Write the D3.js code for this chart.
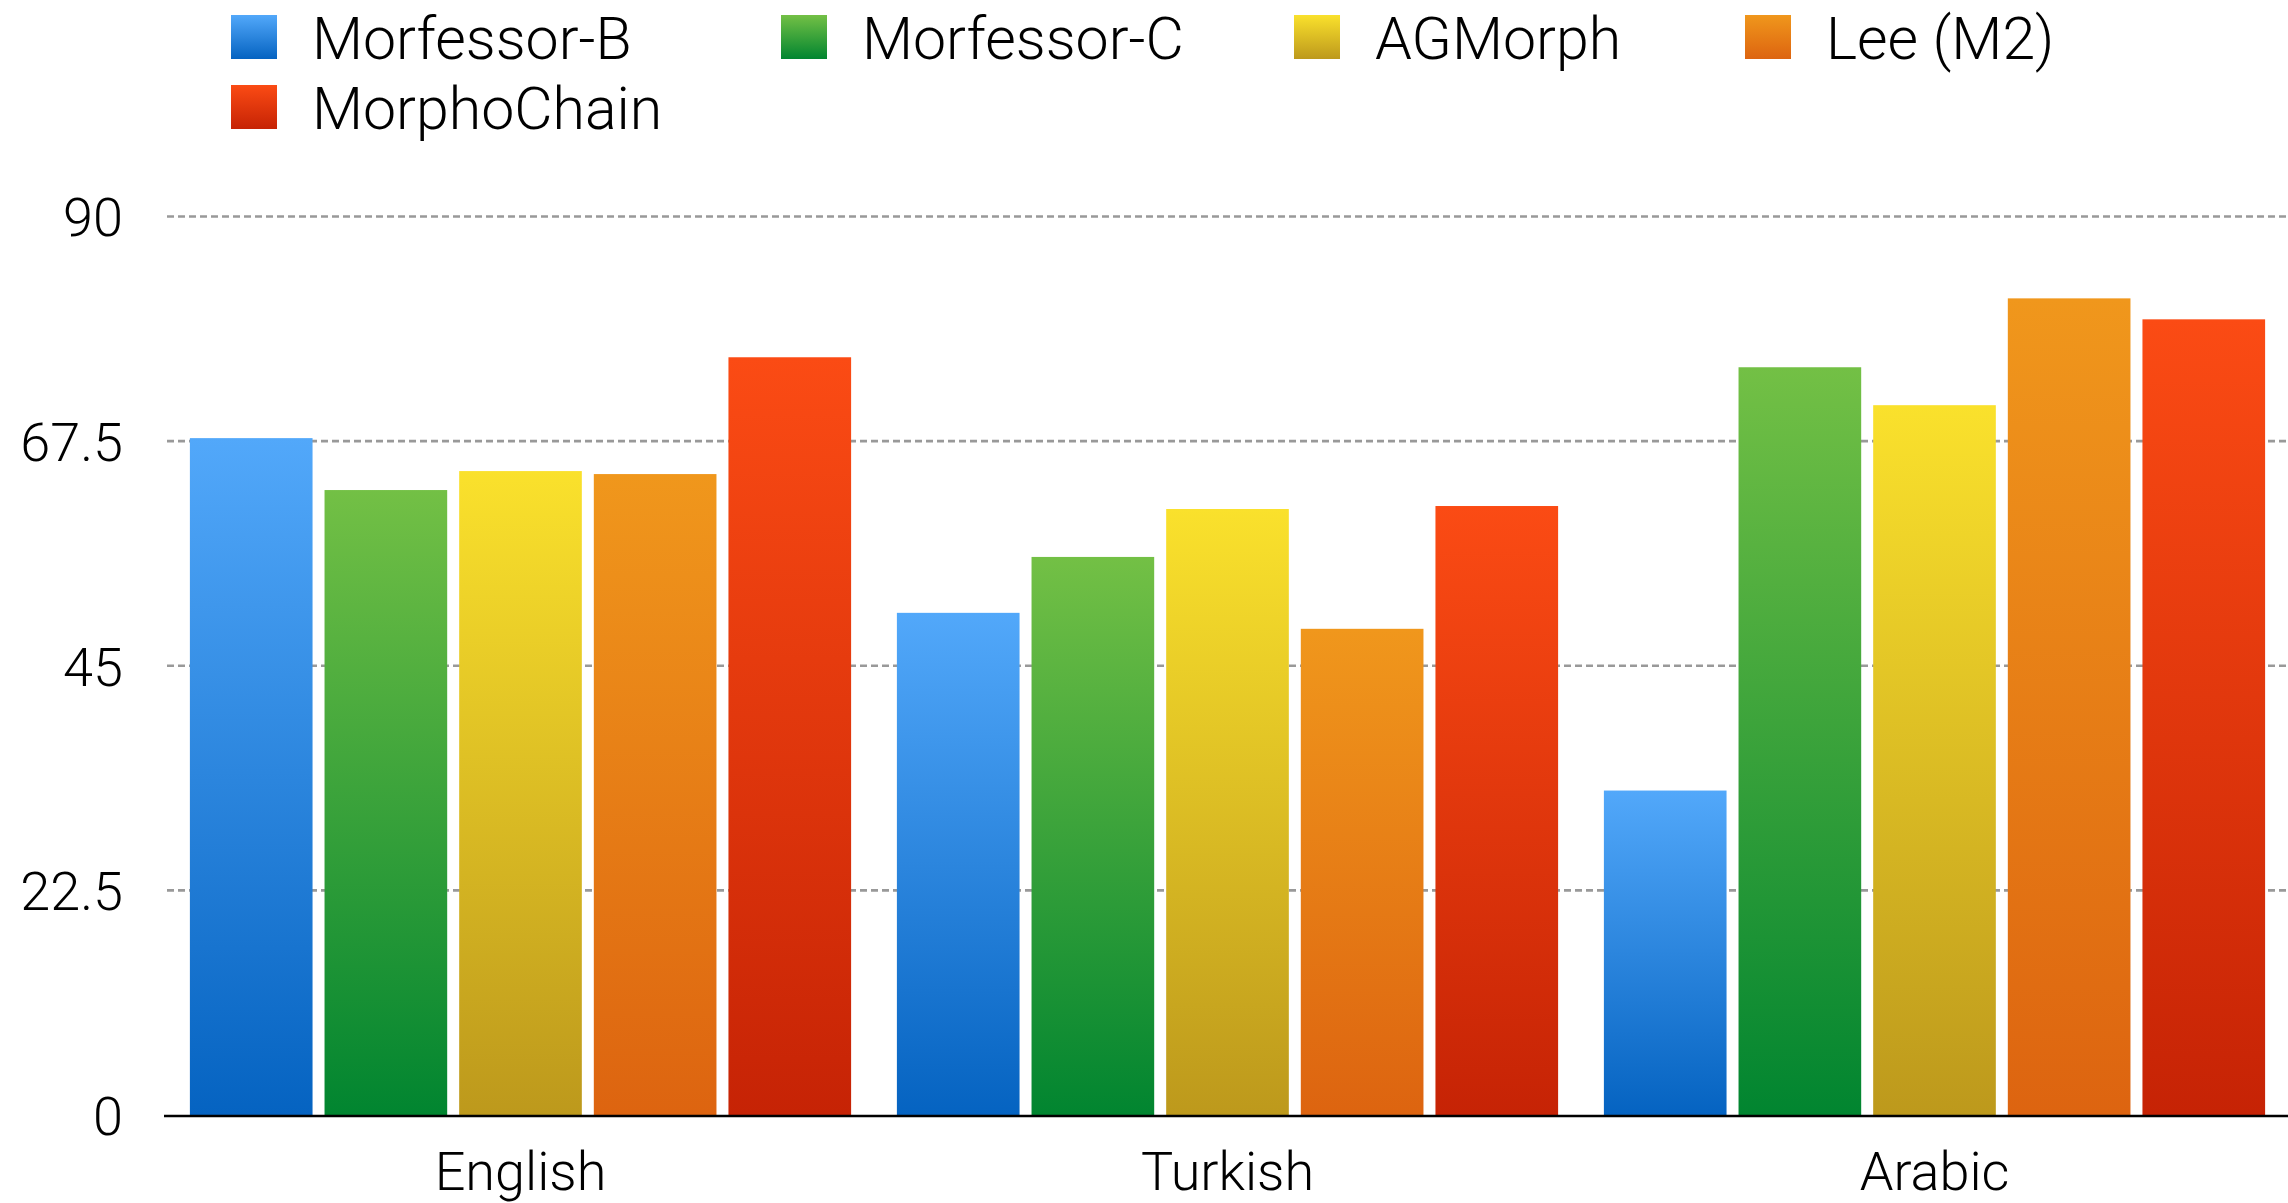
<!DOCTYPE html>
<html>
<head>
<meta charset="utf-8">
<script src="https://cdn.jsdelivr.net/npm/d3@7"></script>
<style>
  html, body { margin: 0; padding: 0; background: #ffffff; }
  svg { display: block; }
  text { font-family: "Roboto", "Liberation Sans", sans-serif; font-weight: 300; fill: #000; }
</style>
</head>
<body>
<svg id="chart" width="2288" height="1203"></svg>
<script>
// Languages on the x axis
const languages = ["English", "Turkish", "Arabic"];

// Systems compared, in legend / bar order
const systems = ["Morfessor-B", "Morfessor-C", "AGMorph", "Lee (M2)", "MorphoChain"];

// Scores per system, one value per language (English, Turkish, Arabic)
const morfessorB  = [67.8, 50.3, 32.5];
const morfessorC  = [62.6, 55.9, 74.9];
const agMorph     = [64.5, 60.7, 71.1];
const leeM2       = [64.2, 48.7, 81.8];
const morphoChain = [75.9, 61.0, 79.7];

// Y axis ticks and their labels
const yTicks = [0, 22.5, 45, 67.5, 90];
const yTickLabels = ["0", "22.5", "45", "67.5", "90"];

// Top and bottom colour of each system's gradient fill
const gradientTop    = ["#52a8fa", "#73c045", "#fae12c", "#f0971c", "#fb4b14"];
const gradientBottom = ["#0563c1", "#018530", "#bd991c", "#dd6410", "#c62305"];

const seriesValues = [morfessorB, morfessorC, agMorph, leeM2, morphoChain];

const svg = d3.select("#chart");
const plotLeft = 165, plotRight = 2288, plotTop = 216.5, plotBottom = 1115;

// Gradients
const defs = svg.append("defs");
systems.forEach((s, i) => {
  const g = defs.append("linearGradient")
    .attr("id", "grad" + i)
    .attr("x1", 0).attr("y1", 0).attr("x2", 0).attr("y2", 1);
  g.append("stop").attr("offset", "0%").attr("stop-color", gradientTop[i]);
  g.append("stop").attr("offset", "100%").attr("stop-color", gradientBottom[i]);
});

// Scales
const x0 = d3.scaleBand().domain(languages).range([plotLeft + 2, plotRight]).paddingInner(0).paddingOuter(0);
const x1 = d3.scaleBand().domain(systems).range([0, x0.bandwidth()]).paddingInner(0.089).paddingOuter(0.17);
const y = d3.scaleLinear().domain([0, 90]).range([plotBottom, plotTop]);

// Dashed gridlines (above zero)
svg.append("g")
  .selectAll("line")
  .data(yTicks.filter(v => v > 0))
  .join("line")
  .attr("x1", plotLeft + 2).attr("x2", plotRight)
  .attr("y1", d => y(d)).attr("y2", d => y(d))
  .attr("stroke", "#999999")
  .attr("stroke-width", 2.6)
  .attr("stroke-dasharray", "7,4");

// Y tick labels
const yAxis = d3.axisLeft(y)
  .tickValues(yTicks)
  .tickSize(0)
  .tickPadding(0)
  .tickFormat((d, i) => yTickLabels[i]);
const yg = svg.append("g").attr("transform", "translate(123,0)").call(yAxis);
yg.select(".domain").remove();
yg.selectAll("text")
  .attr("font-size", 54)
  .attr("font-family", null)
  .attr("dy", "0.36em")
  .attr("fill", "#000");

// Bars
const groups = svg.append("g")
  .selectAll("g")
  .data(languages)
  .join("g")
  .attr("transform", d => `translate(${x0(d)},0)`);

groups.selectAll("rect")
  .data((lang, li) => systems.map((s, si) => ({ s, si, v: seriesValues[si][li] })))
  .join("rect")
  .attr("x", d => x1(d.s))
  .attr("width", x1.bandwidth())
  .attr("y", d => y(d.v))
  .attr("height", d => y(0) - y(d.v))
  .attr("fill", d => `url(#grad${d.si})`);

// Baseline
svg.append("line")
  .attr("x1", plotLeft - 1).attr("x2", plotRight)
  .attr("y1", y(0) + 1).attr("y2", y(0) + 1)
  .attr("stroke", "#000").attr("stroke-width", 2.5);

// Category labels
const xAxis = d3.axisBottom(x0).tickSize(0).tickPadding(0);
const xg = svg.append("g").attr("transform", `translate(0,${plotBottom})`).call(xAxis);
xg.select(".domain").remove();
xg.selectAll("text")
  .attr("font-size", 54)
  .attr("font-family", null)
  .attr("dy", null)
  .attr("y", 75)
  .attr("fill", "#000");

// Legend
const legendX = [231, 781, 1294, 1745, 231];
const legendY = [15, 15, 15, 15, 85];
const legend = svg.append("g")
  .selectAll("g")
  .data(systems)
  .join("g")
  .attr("transform", (d, i) => `translate(${legendX[i]},${legendY[i]})`);
legend.append("rect")
  .attr("width", 46).attr("height", 44)
  .attr("fill", (d, i) => `url(#grad${i})`);
legend.append("text")
  .attr("x", 81).attr("y", 44)
  .attr("font-size", 59)
  .text(d => d);
</script>
</body>
</html>
